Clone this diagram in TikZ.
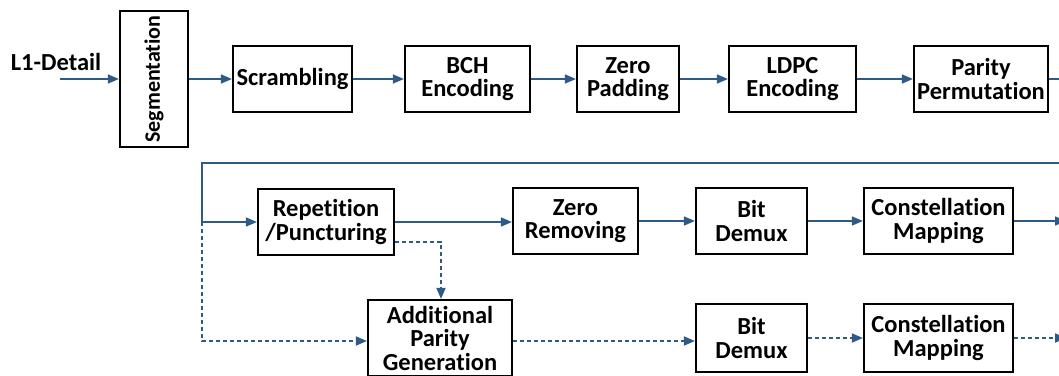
\documentclass[tikz,border=0pt]{standalone}
\usepackage{fontspec}
\setmainfont[Ligatures={NoCommon}]{Carlito}
\usetikzlibrary{arrows.meta}
\definecolor{flow}{HTML}{2E5A88}
\tikzset{
  blk/.style={draw=black, line width=2.2pt, inner sep=0pt, align=center,
    font=\fontsize{24.5}{23.5}\selectfont\bfseries},
  flowline/.style={draw=flow, line width=1.6pt},
  arr/.style={flowline, -{Triangle[length=11pt,width=9pt]}},
  dsh/.style={dash pattern=on 4pt off 3pt, line width=1.8pt},
  lbl/.style={font=\fontsize{24.5}{23.5}\selectfont\bfseries, inner sep=0pt}
}
\begin{document}
\begin{tikzpicture}[x=1pt,y=-1pt]
\useasboundingbox (0,0) rectangle (1059,375);
\clip (0,0) rectangle (1059,375);
% top row
\node[lbl] (l1) at (56,62) {L1-Detail};
\node[blk, rotate=90, minimum width=136pt, minimum height=68pt,
  font=\fontsize{22}{22}\selectfont\bfseries] (seg) at (154,79) {Segmentation};
\node[blk, minimum width=119pt, minimum height=66pt] (scr) at (292.5,79) {Scrambling};
\node[blk, minimum width=125pt, minimum height=66pt] (bch) at (467.5,79) {BCH\\Encoding};
\node[blk, minimum width=102pt, minimum height=66pt] (zp) at (628,79) {Zero\\Padding};
\node[blk, minimum width=127pt, minimum height=66pt] (ldpc) at (792.5,79) {LDPC\\Encoding};
\node[blk, minimum width=134pt, minimum height=66pt] (pp) at (981,79) {Parity\\Permutation};
% second row
\node[blk, minimum width=136pt, minimum height=66pt] (rep) at (326,222) {Repetition\\/Puncturing};
\node[blk, minimum width=125pt, minimum height=66pt] (zr) at (575.5,221) {Zero\\Removing};
\node[blk, minimum width=111pt, minimum height=66pt] (bd1) at (751.5,221) {Bit\\Demux};
\node[blk, minimum width=149pt, minimum height=66pt] (cm1) at (938.5,221) {Constellation\\Mapping};
% third row
\node[blk, minimum width=144pt, minimum height=76pt] (ap) at (440,338) {Additional\\Parity\\Generation};
\node[blk, minimum width=111pt, minimum height=68pt] (bd2) at (751.5,338) {Bit\\Demux};
\node[blk, minimum width=149pt, minimum height=68pt] (cm2) at (938.5,338) {Constellation\\Mapping};
% free ends
\coordinate (in) at (60,79);
\coordinate (o1) at (1075,79);
\coordinate (w1) at (1075,163);
\coordinate (w2) at (202,163);
\coordinate (j1) at (202,222);
\coordinate (j2) at (202,341);
\coordinate (k) at (441,242);
\coordinate (o2) at (1066,221);
\coordinate (o3) at (1066,338);
% top connectors
\draw[arr] (in) -- (seg);
\draw[arr] (seg) -- (scr);
\draw[arr] (scr) -- (bch);
\draw[arr] (bch) -- (zp);
\draw[arr] (zp) -- (ldpc);
\draw[arr] (ldpc) -- (pp);
\draw[flowline] (pp) -- (o1);
\draw[arr] (w1) -- (w2) -- (j1) -- (rep);
% second row
\draw[arr] (rep) -- (zr.west |- rep);
\draw[arr] (zr) -- (bd1);
\draw[arr] (bd1) -- (cm1);
\draw[arr] (cm1) -- (o2);
% dashed
\draw[arr, dsh] (j1) -- (j2) -- (j2 -| ap.west);
\draw[arr, dsh] (k -| rep.east) -- (k) -- (k |- ap.north);
\draw[arr, dsh] (ap.east |- j2) -- (bd2.west |- j2);
\draw[arr, dsh] (bd2) -- (cm2);
\draw[arr, dsh] (cm2) -- (o3);
\end{tikzpicture}
\end{document}
